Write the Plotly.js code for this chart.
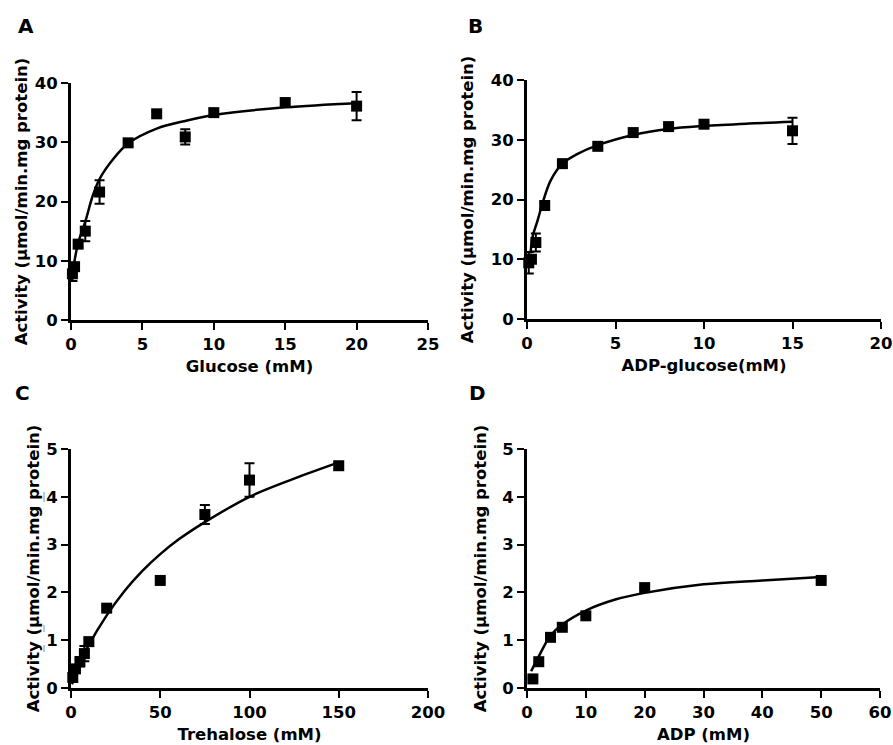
<!DOCTYPE html>
<html>
<head>
<meta charset="utf-8">
<script src="https://cdn.plot.ly/plotly-3.0.1.min.js"></script>
<style>html,body{margin:0;padding:0;background:#fff;}#chart{width:893px;height:745px;}</style>
</head>
<body>
<div id="chart"></div>
<script>
// ---- Panel A: Glucose ----
const glucoseX   = [0.1, 0.25, 0.5, 1, 2, 4, 6, 8, 10, 15, 20];
const glucoseY   = [7.8, 9.0, 12.8, 15.0, 21.6, 29.9, 34.8, 30.9, 35.0, 36.7, 36.1];
const glucoseErr = [1.2, 0.6, 0.6, 1.7, 2.0, 0.5, 0.4, 1.3, 0.5, 0.6, 2.4];
const glucoseFitX = [0.05, 0.1, 0.25, 0.5, 1, 1.5, 2, 3, 4, 6, 8, 10, 15, 20];
const glucoseFitY = [6.5, 7.5, 10.0, 13.0, 16.6, 20.8, 23.8, 27.3, 29.8, 32.3, 33.6, 34.6, 35.9, 36.6];

// ---- Panel B: ADP-glucose ----
const adpgX   = [0.1, 0.25, 0.5, 1, 2, 4, 6, 8, 10, 15];
const adpgY   = [9.4, 10.0, 12.8, 19.0, 26.0, 28.9, 31.2, 32.2, 32.6, 31.5];
const adpgErr = [1.8, 0.6, 1.5, 0.5, 0.5, 0.4, 0.5, 0.4, 0.4, 2.2];
const adpgFitX = [0.2, 0.32, 0.6, 0.87, 1.34, 2, 2.83, 4, 6, 8, 10, 12.5, 15];
const adpgFitY = [11.0, 13.8, 16.5, 19.3, 23.2, 26.0, 27.6, 29.1, 30.8, 31.8, 32.3, 32.7, 33.0];

// ---- Panel C: Trehalose ----
const trehX   = [1, 2.5, 5, 7.5, 10, 20, 50, 75, 100, 150];
const trehY   = [0.22, 0.40, 0.55, 0.72, 0.97, 1.67, 2.25, 3.63, 4.35, 4.65];
const trehErr = [0.05, 0.08, 0.1, 0.16, 0.05, 0.05, 0.05, 0.2, 0.35, 0.08];
const trehFitX = [0.5, 1, 5, 10, 20, 30, 40, 50, 60, 75, 100, 125, 150];
const trehFitY = [0.08, 0.12, 0.5, 0.9, 1.52, 2.03, 2.45, 2.8, 3.1, 3.47, 4.0, 4.38, 4.72];

// ---- Panel D: ADP ----
const adpX   = [1, 2, 4, 6, 10, 20, 50];
const adpY   = [0.19, 0.55, 1.06, 1.27, 1.51, 2.1, 2.25];
const adpErr = [0.02, 0.02, 0.02, 0.02, 0.02, 0.02, 0.02];
const adpFitX = [0.7, 2, 4, 6, 10, 15, 20, 30, 40, 50];
const adpFitY = [0.35, 0.66, 1.1, 1.33, 1.62, 1.85, 1.99, 2.17, 2.25, 2.32];

// ---- Labels ----
const panelLetters = ['A', 'B', 'C', 'D'];
const xTitles = ['Glucose (mM)', 'ADP-glucose(mM)', 'Trehalose (mM)', 'ADP (mM)'];
const yTitle = 'Activity (µmol/min.mg protein)';

const FONT = '"DejaVu Sans", Verdana, sans-serif';
const W = 893, H = 745;

function px2x(p) { return p / W; }
function px2y(p) { return 1 - p / H; }

function pointTrace(x, y, err, ax) {
  return {
    type: 'scatter', mode: 'markers', x: x, y: y,
    xaxis: 'x' + ax, yaxis: 'y' + ax,
    marker: {symbol: 'square', size: 11, color: 'black'},
    error_y: {type: 'data', array: err, visible: true, color: 'black', thickness: 2, width: 5},
    cliponaxis: false, showlegend: false, hoverinfo: 'x+y'
  };
}
function fitTrace(x, y, ax) {
  return {
    type: 'scatter', mode: 'lines', x: x, y: y,
    xaxis: 'x' + ax, yaxis: 'y' + ax,
    line: {color: 'black', width: 2.5, shape: 'spline', smoothing: 1},
    cliponaxis: false, showlegend: false, hoverinfo: 'skip'
  };
}

const data = [
  fitTrace(glucoseFitX, glucoseFitY, ''),
  pointTrace(glucoseX, glucoseY, glucoseErr, ''),
  fitTrace(adpgFitX, adpgFitY, '2'),
  pointTrace(adpgX, adpgY, adpgErr, '2'),
  fitTrace(trehFitX, trehFitY, '3'),
  pointTrace(trehX, trehY, trehErr, '3'),
  fitTrace(adpFitX, adpFitY, '4'),
  pointTrace(adpX, adpY, adpErr, '4')
];

const tickFont = {family: FONT, size: 16.5, color: 'black', weight: 'bold'};
const titleFont = {family: FONT, size: 16.5, color: 'black', weight: 'bold'};

function axis(extra) {
  return Object.assign({
    showline: true, linecolor: 'black', linewidth: 3,
    ticks: 'outside', ticklen: 7, tickwidth: 2, tickcolor: 'black',
    showgrid: false, zeroline: false, tickfont: tickFont,
    ticklabeloverflow: 'allow',
    automargin: false, fixedrange: true
  }, extra);
}

// panel boxes in px: [left, right, top, bottom]
const boxes = [
  [71, 428, 83, 320],
  [527, 881, 80, 319],
  [71, 428, 449, 688],
  [527, 880, 449, 688]
];
const xRanges = [[0, 25], [0, 20], [0, 200], [0, 60]];
const xDticks = [5, 5, 50, 10];
const yRanges = [[0, 40], [0, 40], [0, 5], [0, 5]];
const yDticks = [10, 10, 1, 1];
const yStandoff = [3, 13, 3, 12];

const layout = {
  width: W, height: H,
  margin: {l: 0, r: 0, t: 0, b: 0},
  paper_bgcolor: 'white', plot_bgcolor: 'white',
  showlegend: false,
  font: {family: FONT, color: 'black'},
  annotations: [],
  shapes: []
};

const suffix = ['', '2', '3', '4'];
for (let i = 0; i < 4; i++) {
  const b = boxes[i];
  layout['xaxis' + suffix[i]] = axis({
    domain: [px2x(b[0]), px2x(b[1])], range: xRanges[i], dtick: xDticks[i], tick0: 0,
    anchor: 'y' + suffix[i],
    title: {text: xTitles[i], font: titleFont, standoff: 8}
  });
  layout['yaxis' + suffix[i]] = axis({
    domain: [px2y(b[3]), px2y(b[2])], range: yRanges[i], dtick: yDticks[i], tick0: 0,
    anchor: 'x' + suffix[i],
    title: {text: yTitle, font: titleFont, standoff: yStandoff[i]}
  });
}

const letterPos = [[26, 26], [475, 26], [22, 393], [477, 393]];
for (let i = 0; i < 4; i++) {
  layout.annotations.push({
    text: panelLetters[i], xref: 'paper', yref: 'paper',
    x: px2x(letterPos[i][0]), y: px2y(letterPos[i][1]),
    xanchor: 'center', yanchor: 'middle', showarrow: false,
    font: {family: FONT, size: 20, color: 'black', weight: 'bold'}
  });
}

// faint blue scan marks beside panel C's axis
[[492, 502], [625, 632], [645, 652]].forEach(function (s) {
  layout.shapes.push({
    type: 'line', xref: 'paper', yref: 'paper',
    x0: px2x(44), x1: px2x(44), y0: px2y(s[0]), y1: px2y(s[1]),
    line: {color: '#8fbbe3', width: 1.5}
  });
});

Plotly.newPlot('chart', data, layout, {displayModeBar: false, staticPlot: true});
</script>
</body>
</html>
